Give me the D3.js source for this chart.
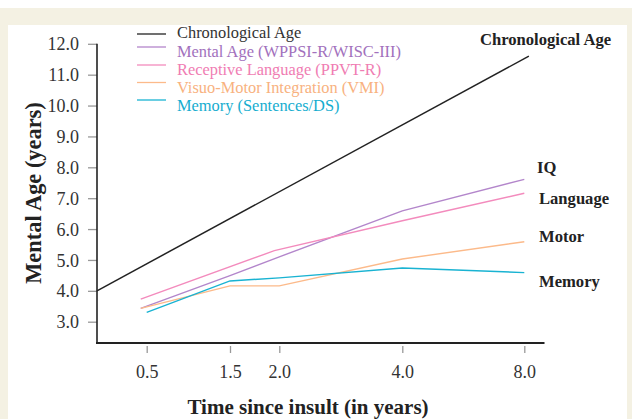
<!DOCTYPE html>
<html>
<head>
<meta charset="utf-8">
<script src="https://cdn.jsdelivr.net/npm/d3@7"></script>
<style>
  body { margin: 0; background: #fff; }
  svg { display: block; font-family: "Liberation Serif", "Times New Roman", serif; }
</style>
</head>
<body>
<svg id="chart" width="632" height="419"></svg>
<script>
// === Data
const timeTicks = [0.5, 1.5, 2.0, 4.0, 8.0];
const ageTicks = [3, 4, 5, 6, 7, 8, 9, 10, 11, 12];

const chronoTime = [0, 8.15];
const chronoAge = [4.0, 11.6];

const iqTime = [0.44, 1.5, 2.0, 4.0, 8.0];
const iqAge = [3.43, 4.49, 5.1, 6.59, 7.61];

const langTime = [0.44, 1.95, 4.0, 8.0];
const langAge = [3.73, 5.3, 6.27, 7.16];

const motorTime = [0.44, 1.5, 2.0, 4.0, 8.0];
const motorAge = [3.43, 4.16, 4.16, 5.03, 5.59];

const memTime = [0.5, 1.5, 2.0, 4.0, 8.0];
const memAge = [3.3, 4.32, 4.42, 4.74, 4.59];

const seriesNames = ["Chronological Age", "Mental Age (WPPSI-R/WISC-III)", "Receptive Language (PPVT-R)",
                     "Visuo-Motor Integration (VMI)", "Memory (Sentences/DS)"];
const endLabels = ["Chronological Age", "IQ", "Language", "Motor", "Memory"];
const colors = ["#222222", "#b386cb", "#f38bbd", "#fcba8a", "#19b3d2"];
const textColors = ["#333333", "#a271bd", "#f07db3", "#f8b27f", "#16adcf"];

const series = [
  {time: chronoTime, age: chronoAge},
  {time: iqTime, age: iqAge},
  {time: langTime, age: langAge},
  {time: motorTime, age: motorAge},
  {time: memTime, age: memAge}
];

const svg = d3.select("#chart");

// background frame
svg.append("rect").attr("x", 0).attr("y", 8).attr("width", 632).attr("height", 411).attr("fill", "#f4f1e3");
svg.append("rect").attr("x", 8).attr("y", 25).attr("width", 619).attr("height", 394).attr("fill", "#fff");

// === Scales (x axis has uneven spacing in the original)
const x = d3.scaleLinear().domain([0, 0.5, 1.5, 2, 4, 8]).range([97, 146.7, 230, 279.3, 402.3, 524.3]);
const y = d3.scaleLinear().domain([3, 12]).range([321.7, 43.8]);

const axisBottomY = 343;

// axes
const gy = svg.append("g").attr("transform", "translate(97,0)")
  .call(d3.axisLeft(y).tickValues(ageTicks).tickFormat(d3.format(".1f")).tickSize(9).tickPadding(9));
gy.select(".domain").remove();
gy.selectAll(".tick line").attr("stroke", "#999").attr("stroke-width", 1.3);
gy.selectAll(".tick text").attr("font-size", 18).attr("fill", "#333").attr("font-family", "Liberation Serif").attr("dy", "0.34em");

const gx = svg.append("g").attr("transform", `translate(0,${axisBottomY + 3})`)
  .call(d3.axisBottom(x).tickValues(timeTicks).tickFormat(d3.format(".1f")).tickSize(7).tickPadding(12));
gx.select(".domain").remove();
gx.selectAll(".tick line").attr("stroke", "#999").attr("stroke-width", 1.3);
gx.selectAll(".tick text").attr("font-size", 18).attr("fill", "#333").attr("font-family", "Liberation Serif");

svg.append("line").attr("x1", 97).attr("x2", 97).attr("y1", y(12)).attr("y2", axisBottomY + 1)
  .attr("stroke", "#222").attr("stroke-width", 1.6);
svg.append("line").attr("x1", 96).attr("x2", 544.5).attr("y1", axisBottomY).attr("y2", axisBottomY)
  .attr("stroke", "#222").attr("stroke-width", 2);

// === Lines
const line = d3.line().x(d => x(d[0])).y(d => y(d[1]));
series.forEach((s, i) => {
  svg.append("path")
    .datum(d3.zip(s.time, s.age))
    .attr("d", line)
    .attr("fill", "none")
    .attr("stroke", colors[i])
    .attr("stroke-width", i === 0 ? 1.5 : 1.4);
});

// end labels
const endPos = [[480, 45], [537, 173], [539, 204], [539, 242], [539, 287]];
svg.selectAll(".endlabel")
  .data(endLabels)
  .join("text")
    .attr("class", "endlabel")
    .attr("x", (d, i) => endPos[i][0])
    .attr("y", (d, i) => endPos[i][1])
    .attr("font-size", 16.6)
    .attr("font-weight", "bold")
    .attr("fill", "#222")
    .text(d => d);

// === Legend
const legendLineY = [34, 47, 65, 82.5, 100];
const legendTextY = [38, 57, 75, 93, 111];
const legend = svg.append("g").attr("class", "legend");
seriesNames.forEach((name, i) => {
  legend.append("line")
    .attr("x1", 137).attr("x2", 166)
    .attr("y1", legendLineY[i]).attr("y2", legendLineY[i])
    .attr("stroke", colors[i]).attr("stroke-width", 1.3);
  legend.append("text")
    .attr("x", 177).attr("y", legendTextY[i])
    .attr("font-size", 16.4)
    .attr("fill", textColors[i])
    .text(name);
});

// axis titles
svg.append("text")
  .attr("transform", "translate(41,193) rotate(-90)")
  .attr("text-anchor", "middle")
  .attr("font-size", 22.4)
  .attr("font-weight", "bold")
  .attr("fill", "#222")
  .text("Mental Age (years)");

svg.append("text")
  .attr("x", 308).attr("y", 414)
  .attr("text-anchor", "middle")
  .attr("font-size", 21)
  .attr("font-weight", "bold")
  .attr("fill", "#222")
  .text("Time since insult (in years)");
</script>
</body>
</html>
